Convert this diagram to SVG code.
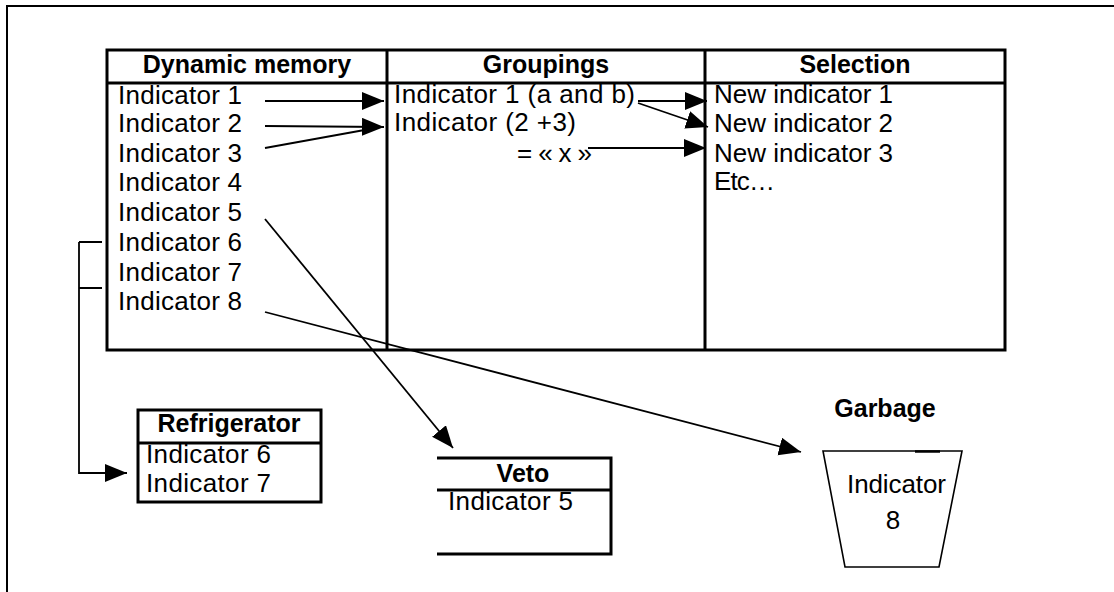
<svg xmlns="http://www.w3.org/2000/svg" width="1114" height="592" viewBox="0 0 1114 592">
<style>
text{font-family:"Liberation Sans",Arial,sans-serif;font-size:26px;fill:#000}
.b{font-weight:bold;font-size:25px}
.m{text-anchor:middle}
.box{fill:none;stroke:#000;stroke-width:3}
.thin{fill:none;stroke:#000;stroke-width:1.6}
.c{fill:none;stroke:#000;stroke-width:1.8}
.a{marker-end:url(#ah)}
</style>
<defs>
<marker id="ah" markerUnits="userSpaceOnUse" markerWidth="24" markerHeight="20" refX="22" refY="9" orient="auto">
<path d="M0,0 L22,9 L0,18 Z" fill="#000"/>
</marker>
</defs>
<rect width="1114" height="592" fill="#fff"/>
<g id="frame"><path d="M7,592 V6 H1114" fill="none" stroke="#000" stroke-width="2"/></g>
<g id="table">
<rect class="box" x="107" y="50" width="898" height="300"/>
<line class="box" x1="107" y1="83" x2="1005" y2="83"/>
<line class="box" x1="387" y1="50" x2="387" y2="350"/>
<line class="box" x1="705" y1="50" x2="705" y2="350"/>
</g>
<g id="dynamic-memory">
<text class="b m" x="247" y="73">Dynamic memory</text>
<text x="118" y="104" textLength="124">Indicator 1</text>
<text x="118" y="132" textLength="124">Indicator 2</text>
<text x="118" y="162" textLength="124">Indicator 3</text>
<text x="118" y="191" textLength="124">Indicator 4</text>
<text x="118" y="221" textLength="124">Indicator 5</text>
<text x="118" y="251" textLength="124">Indicator 6</text>
<text x="118" y="281" textLength="124">Indicator 7</text>
<text x="118" y="310" textLength="124">Indicator 8</text>
</g>
<g id="groupings">
<text class="b m" x="546" y="73">Groupings</text>
<text x="394" y="103" textLength="241">Indicator 1 (a and b)</text>
<text x="394" y="131" textLength="182">Indicator (2 +3)</text>
<text x="517" y="162" textLength="75">= « x »</text>
</g>
<g id="selection">
<text class="b m" x="855" y="73">Selection</text>
<text x="714" y="103" textLength="179">New indicator 1</text>
<text x="714" y="132" textLength="179">New indicator 2</text>
<text x="714" y="162" textLength="179">New indicator 3</text>
<text x="714" y="190" textLength="61">Etc…</text>
</g>
<g id="refrigerator">
<rect class="box" x="138" y="410" width="183" height="92"/>
<line class="box" x1="138" y1="443" x2="321" y2="443"/>
<text class="b m" x="229" y="432">Refrigerator</text>
<text x="146" y="463" textLength="125">Indicator 6</text>
<text x="146" y="492" textLength="125">Indicator 7</text>
</g>
<g id="veto">
<path class="box" d="M437,458 H611 V554 H437"/>
<line class="box" x1="437" y1="490" x2="611" y2="490"/>
<text class="b m" x="523" y="482">Veto</text>
<text x="448" y="510" textLength="125">Indicator 5</text>
</g>
<g id="garbage">
<text class="b m" x="885" y="417">Garbage</text>
<path class="thin" d="M823,451 H962 L939,567 H845 Z"/>
<line x1="915" y1="451.5" x2="940" y2="451.5" stroke="#000" stroke-width="2.5"/>
<text x="847" y="493" textLength="99">Indicator</text>
<text class="m" x="893" y="529">8</text>
</g>
<g id="connectors">
<line class="c a" x1="265" y1="101" x2="384" y2="101"/>
<line class="c a" x1="265" y1="126" x2="384" y2="127"/>
<line class="c" x1="265" y1="148" x2="370" y2="129"/>
<line class="c a" x1="638" y1="101" x2="707" y2="101"/>
<line class="c a" x1="638" y1="103" x2="708" y2="127"/>
<line class="c a" x1="588" y1="148" x2="706" y2="148"/>
<line class="c a" x1="265" y1="219" x2="453" y2="448"/>
<line class="c a" x1="265" y1="312" x2="801" y2="452"/>
<path class="c" d="M102,242 H79 M102,288 H79"/>
<path class="c a" d="M79,242 V473 H127"/>
</g>
</svg>
